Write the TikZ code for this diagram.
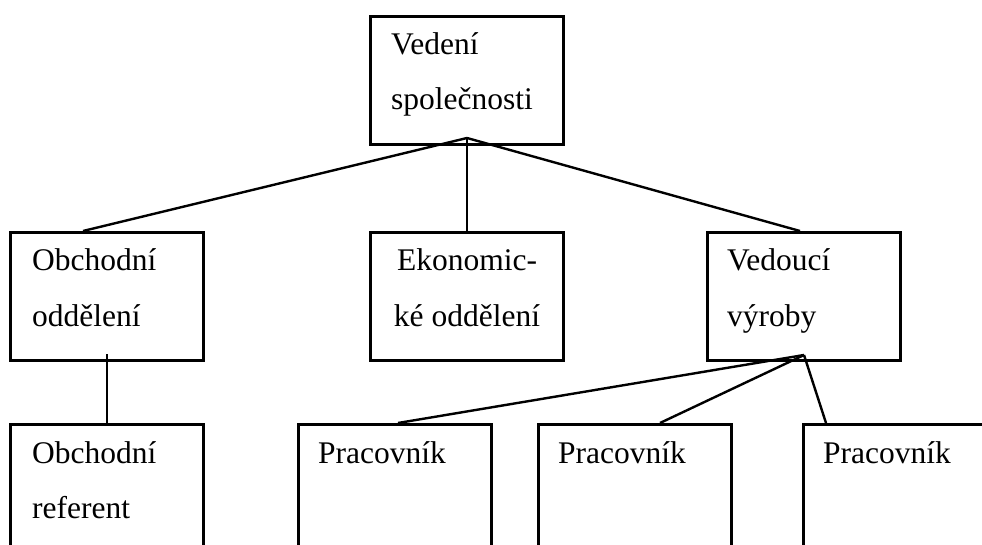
\documentclass[tikz,border=0pt]{standalone}
\usepackage{fontspec}
\setmainfont{Liberation Serif}
\usetikzlibrary{
  positioning,
  calc
}
\tikzset{
  orgbox/.style={
    draw, line width=3pt, anchor=north west, inner sep=0pt,
    minimum width=193pt, minimum height=128pt
  },
  orglabel/.style={anchor=base west, inner sep=0pt, font=\fontsize{31.5}{55}\selectfont},
  orgmid/.style={orglabel, anchor=base},
  orgline/.style={line width=2.4pt, black}
}

\begin{document}
\begin{tikzpicture}[x=1pt, y=-1pt]
  \useasboundingbox (0,0) rectangle (982,545);
  \clip (0,0) rectangle (982,545);

  % boxes
  \node[orgbox] (vedeni) at (369,15) {};
  \node[orgbox] (obchod) at (9,231) {};
  \node[orgbox] (ekonom) at (369,231) {};
  \node[orgbox] (vyroba) at (706,231) {};
  \node[orgbox] (referent) at (9,423) {};
  \foreach \i/\x in {1/297, 2/537, 3/802}{
    \node[orgbox] (prac\i) at (\x,423) {};
    \node[orglabel] (prac\i-t) at ($(prac\i.north west)+(21,40)$) {Pracovník};
  }

  % labels
  \node[orglabel] (vedeni-a) at ($(vedeni.north west)+(22,40)$) {Vedení};
  \node[orglabel] (vedeni-b) at ($(vedeni.north west)+(22,95)$) {společnosti};
  \node[orglabel] (obchod-a) at ($(obchod.north west)+(23,40)$) {Obchodní};
  \node[orglabel] (obchod-b) at ($(obchod.north west)+(23,95)$) {oddělení};
  \node[orgmid] (ekonom-a) at ($(ekonom.north)+(0,40)$) {Ekonomic-};
  \node[orgmid] (ekonom-b) at ($(ekonom.north)+(0,95)$) {ké oddělení};
  \node[orglabel] (vyroba-a) at ($(vyroba.north west)+(21,40)$) {Vedoucí};
  \node[orglabel] (vyroba-b) at ($(vyroba.north west)+(21,95)$) {výroby};
  \node[orglabel] (referent-a) at ($(referent.north west)+(23,40)$) {Obchodní};
  \node[orglabel] (referent-b) at ($(referent.north west)+(23,95)$) {referent};

  % connectors
  \coordinate (topjoin) at ($(vedeni.south)+(0,-8)$);
  \coordinate (vyrjoin) at ($(vyroba.south)+(0,-7)$);
  \draw[orgline] (topjoin) -- ($(obchod.north west)+(74,0)$);
  \draw[orgline] (topjoin) -- (ekonom.north);
  \draw[orgline] (topjoin) -- ($(vyroba.north west)+(94,0)$);
  \draw[orgline] ($(obchod.south)+(0,-8)$) -- (referent.north);
  \draw[orgline] (vyrjoin) -- ($(prac1.north west)+(101,0)$);
  \draw[orgline] (vyrjoin) -- ($(prac2.north west)+(123,0)$);
  \draw[orgline] (vyrjoin) -- ($(prac3.north west)+(24,0)$);
\end{tikzpicture}
\end{document}
